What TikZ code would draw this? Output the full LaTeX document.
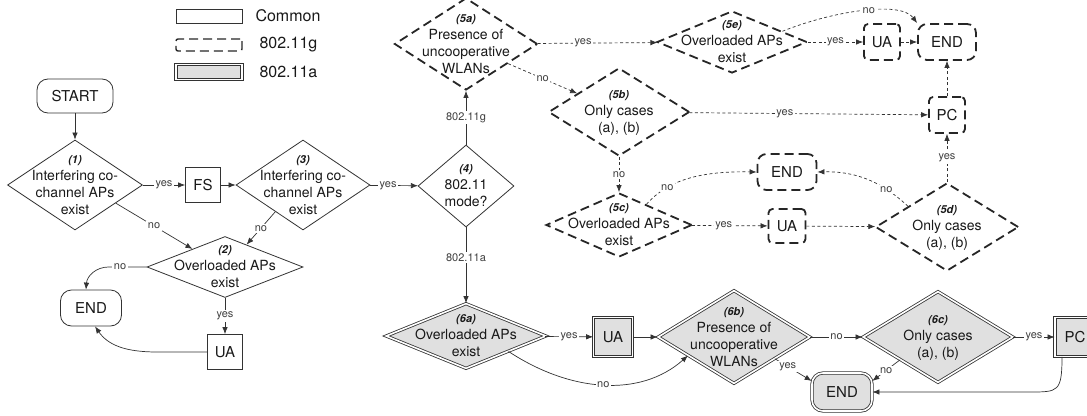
\documentclass[tikz,border=0pt]{standalone}
\usepackage{fontspec}
\setmainfont{TeX Gyre Heros}
\usetikzlibrary{shapes.geometric,arrows.meta}

\newcommand{\dlab}[2]{\raisebox{-4pt}[0pt][0pt]{\makebox[0pt]{\begin{tabular}[c]{@{}c@{}}{\fontsize{11}{13}\selectfont\bfseries\itshape #1}\\#2\end{tabular}}}}

\begin{document}
\begin{tikzpicture}[x=1pt,y=-1pt,>={Latex[length=7pt,width=5.5pt]},
    every node/.style={font=\fontsize{14}{17}\selectfont,text=black!90},
    sz/.style 2 args={minimum width=#1pt,minimum height=#2pt},
    cbox/.style={rectangle,draw=black!80,line width=0.8pt,font=\fontsize{15}{18}\selectfont},
    gbox/.style={rectangle,draw=black!85,line width=1.8pt,dash pattern=on 9pt off 5pt,rounded corners=4pt,font=\fontsize{15}{18}\selectfont},
    abox/.style={rectangle,draw=black!80,line width=0.8pt,double=white,double distance=1.6pt,fill=black!12,font=\fontsize{15}{18}\selectfont},
    cdia/.style={diamond,draw=black!80,line width=0.8pt,inner sep=0pt},
    gdia/.style={diamond,draw=black!85,line width=1.8pt,dash pattern=on 9pt off 5pt,inner sep=0pt},
    adia/.style={diamond,draw=black!80,line width=0.8pt,double=white,double distance=1.6pt,fill=black!12,inner sep=0pt},
    con/.style={->,draw=black!80,line width=0.7pt},
    gcon/.style={con,dash pattern=on 3pt off 2.5pt},
    lbl/.style={fill=white,inner sep=1.5pt,font=\fontsize{11}{13}\selectfont,text=black!75}]
      \useasboundingbox (0,0) rectangle (1087,415);

      \node[cbox,sz={66}{14}] (legc) at (209,16) {};
      \node[gbox,sz={66}{12},line width=1.4pt,rounded corners=2pt] (legg) at (209,45) {};
      \node[abox,sz={66}{15}] (lega) at (209,72) {};
      \node[anchor=west,font=\fontsize{16}{19}\selectfont] (legct) at (252,16) {Common};
      \node[anchor=west,font=\fontsize{16}{19}\selectfont] (leggt) at (256,45) {802.11g};
      \node[anchor=west,font=\fontsize{16}{19}\selectfont] (legat) at (256,72) {802.11a};

      \node[cbox,sz={76}{34},rounded corners=11pt] (start) at (75,96) {START};
      \node[cdia,sz={135}{90}] (d1) at (75,185) {\dlab{(1)}{Interfering co-\\channel APs\\exist}};
      \node[cbox,sz={35}{35}] (fs) at (203,185) {FS};
      \node[cdia,sz={134}{90}] (d3) at (303,185) {\dlab{(3)}{Interfering co-\\channel APs\\exist}};
      \node[cdia,sz={156}{61}] (d2) at (225,267) {\dlab{(2)}{Overloaded APs\\exist}};
      \node[cbox,sz={61}{36},rounded corners=11pt] (end1) at (91,308) {END};
      \node[cbox,sz={35}{35}] (ua1) at (225,352) {UA};
      \node[cdia,sz={96}{82}] (d4) at (466,186) {\dlab{(4)}{802.11\\mode?}};

      \node[gdia,sz={143}{92}] (d5a) at (466,44) {\dlab{(5a)}{Presence of\\uncooperative\\WLANs}};
      \node[gdia,sz={150}{62}] (d5e) at (732,42) {\dlab{(5e)}{Overloaded APs\\exist}};
      \node[gbox,sz={36}{36}] (ua2) at (882,42) {UA};
      \node[gbox,sz={58}{36},rounded corners=9pt] (end2) at (947,42) {END};
      \node[gbox,sz={36}{36}] (pc2) at (947,115) {PC};
      \node[gdia,sz={141}{88}] (d5b) at (619,112) {\dlab{(5b)}{Only cases\\(a), (b)}};
      \node[gdia,sz={146}{64}] (d5c) at (619,225) {\dlab{(5c)}{Overloaded APs\\exist}};
      \node[gbox,sz={59}{36},rounded corners=9pt] (end3) at (787,172) {END};
      \node[gbox,sz={37}{34}] (ua3) at (787,226) {UA};
      \node[gdia,sz={143}{88}] (d5d) at (947,227) {\dlab{(5d)}{Only cases\\(a), (b)}};

      \node[adia,sz={160}{65}] (d6a) at (466,336) {\dlab{(6a)}{Overloaded APs\\exist}};
      \node[abox,sz={39}{39}] (ua4) at (613,337) {UA};
      \node[adia,sz={152}{93}] (d6b) at (734,337) {\dlab{(6b)}{Presence of\\uncooperative\\WLANs}};
      \node[adia,sz={150}{91}] (d6c) at (938,337) {\dlab{(6c)}{Only cases\\(a), (b)}};
      \node[abox,sz={40}{39}] (pc4) at (1075,337) {PC};
      \node[abox,sz={60}{38},rounded corners=11pt] (end4) at (842,392) {END};

      \draw[con] (start) -- (d1);
      \draw[con] (d1) -- node[lbl] {yes} (fs);
      \draw[con] (fs) -- (d3);
      \draw[con] (d1.-24) -- node[lbl] {no} (d2.151);
      \draw[con] (d3.224) -- node[lbl] {no} (d2.46);
      \draw[con] (d2.west) -- node[lbl,pos=.7] {no} ++(-38,0) .. controls (96,267) and (87,276) .. ([xshift=-5pt]end1.north);
      \draw[con] (d2) -- node[lbl] {yes} (ua1);
      \draw[con] (ua1.west) -- ++(-50,0) .. controls (125,352) and (108,345) .. ([xshift=4pt]end1.south);
      \draw[con] (d3) -- node[lbl,pos=.38] {yes} (d4);
      \draw[con] (d4) -- node[lbl] {802.11g} (d5a);
      \draw[con] (d4) -- node[lbl,pos=.4] {802.11a} (d6a);

      \draw[gcon] (d5a) -- node[lbl,pos=.38] {yes} (d5e);
      \draw[gcon] (d5a.-25) -- node[lbl] {no} (d5b.156);
      \draw[gcon] (d5e) -- node[lbl] {yes} (ua2);
      \draw[gcon] (ua2) -- (end2);
      \draw[gcon] (d5e.12) .. controls (830,12) and (900,0) .. (end2.north west) node[lbl,pos=.55] {no};
      \draw[gcon] (d5b) -- node[lbl,pos=.4] {yes} (pc2);
      \draw[gcon] (pc2) -- (end2);
      \draw[gcon] (d5b) -- node[lbl] {no} (d5c);
      \draw[gcon] (d5c.37) .. controls (668,180) and (700,171) .. (end3.west) node[lbl,pos=.28] {no};
      \draw[gcon] (d5c) -- node[lbl,pos=.42] {yes} (ua3);
      \draw[gcon] (ua3) -- (d5d);
      \draw[gcon] (d5d) -- node[lbl] {yes} (pc2);
      \draw[gcon] (d5d.152) .. controls (885,185) and (860,171) .. (end3.east) node[lbl,pos=.3] {no};

      \draw[con] (d6a) -- node[lbl] {yes} (ua4);
      \draw[con] (ua4) -- (d6b);
      \draw[con] (d6a.-20) .. controls (570,392) and (640,398) .. (d6b.202) node[lbl,pos=.5] {no};
      \draw[con] (d6b) -- node[lbl] {no} (d6c);
      \draw[con] (d6c) -- node[lbl] {yes} (pc4);
      \draw[con] (d6b.-28) -- node[lbl,pos=.35] {yes} (end4.160);
      \draw[con] (d6c.211) -- node[lbl,pos=.5] {no} (end4.20);
      \draw[con] ([xshift=-13pt]pc4.south) .. controls (1062,392) and (1058,392) .. (1030,392) -- (end4.east);
\end{tikzpicture}
\end{document}
